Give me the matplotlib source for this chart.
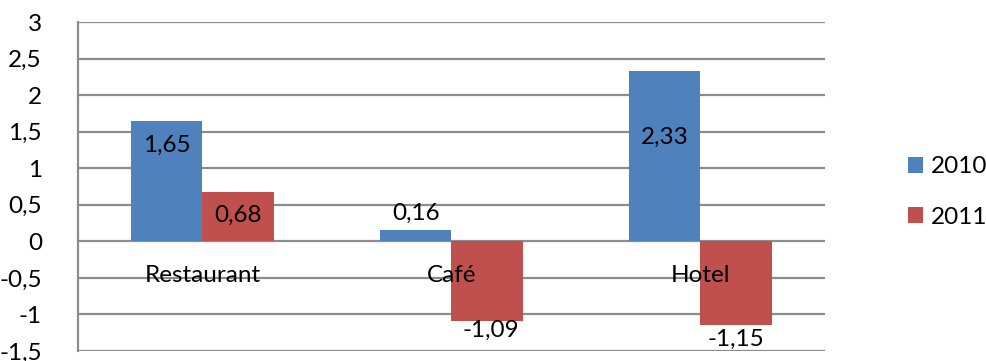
import matplotlib
matplotlib.use("Agg")
import matplotlib.pyplot as plt
import numpy as np

plt.rcParams['font.family'] = ['Lato', 'DejaVu Sans']

categories = ["Restaurant", "Café", "Hotel"]
series_names = ["2010", "2011"]
values_2010 = [1.65, 0.16, 2.33]
values_2011 = [0.68, -1.09, -1.15]
y_ticks = [-1.5, -1, -0.5, 0, 0.5, 1, 1.5, 2, 2.5, 3]

colors = ["#4F81BD", "#C0504D"]
grid_color = "#8C8C8C"
FS = 17.5

def fmt(v):
    s = ("%g" % v)
    return s.replace(".", ",")

fig = plt.figure(figsize=(9.87, 3.61), dpi=100)
ax = fig.add_axes([78 / 987, 1 - 351 / 361, (825 - 78) / 987, (351 - 22) / 361])

x = np.arange(len(categories))
w = 1 / 3.5
bars_a = ax.bar(x - w / 2, values_2010, w, color=colors[0], label=series_names[0], zorder=3)
bars_b = ax.bar(x + w / 2, values_2011, w, color=colors[1], label=series_names[1], zorder=3)

ax.set_xlim(-0.5, len(categories) - 0.5)
ax.set_ylim(-1.5, 3)
ax.set_yticks(y_ticks)
ax.set_yticklabels([fmt(t) for t in y_ticks], fontsize=FS)
ax.tick_params(axis='y', length=0, pad=26)
ax.set_xticks([])

for t in y_ticks:
    ax.axhline(t, color=grid_color, lw=1.6, zorder=1)
for s in ["top", "right", "bottom"]:
    ax.spines[s].set_visible(False)
ax.spines["left"].set_color(grid_color)
ax.spines["left"].set_linewidth(1.6)

# category names sit just below the zero line
for xi, name in zip(x, categories):
    ax.annotate(name, (xi, 0), xytext=(0, -34), textcoords='offset pixels',
                ha='center', va='center', fontsize=FS, zorder=4)

# value labels, nudged to the positions used in the layout
offsets_a = [(0, -25), (0, 16), (0, -66)]
offsets_b = [(0, -24), (4, -9), (0, -14)]
for bars, vals, offs in [(bars_a, values_2010, offsets_a), (bars_b, values_2011, offsets_b)]:
    for b, v, (dx, dy) in zip(bars, vals, offs):
        ax.annotate(fmt(v), (b.get_x() + b.get_width() / 2, v), xytext=(dx, dy),
                    textcoords='offset pixels', ha='center', va='center',
                    fontsize=FS, zorder=4)

leg = fig.legend(loc='center left', bbox_to_anchor=(908 / 987, 1 - 192 / 361),
                 frameon=False, fontsize=FS, handlelength=0.6, handleheight=0.6,
                 handletextpad=0.35, labelspacing=1.2, borderpad=0, borderaxespad=0)

fig.savefig("out.png", dpi=100)
